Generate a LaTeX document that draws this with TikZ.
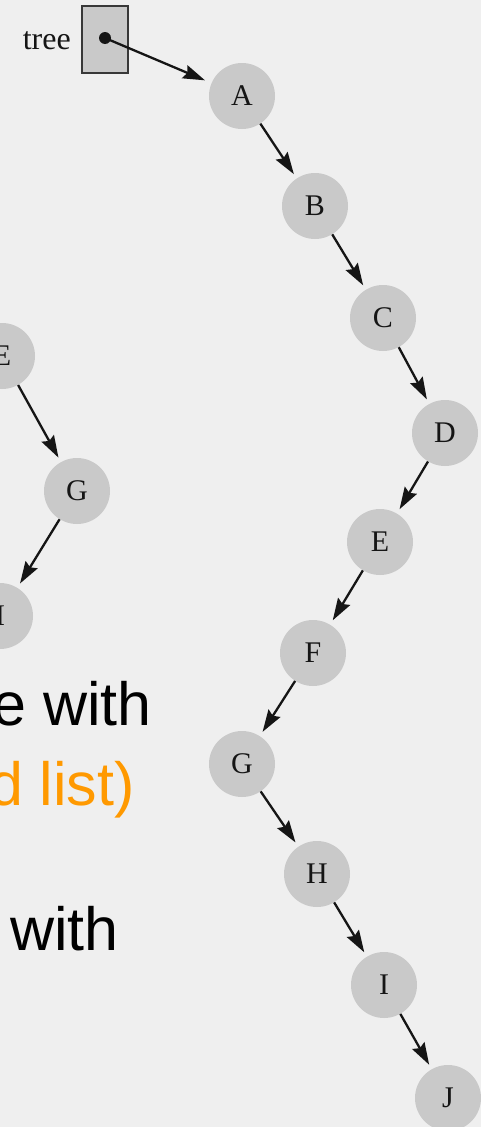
\documentclass[tikz,border=0pt]{standalone}
\usepackage{fontspec}
\setmainfont{Liberation Serif}
\newfontfamily\slidefont{Liberation Sans}
\usetikzlibrary{arrows.meta}
\definecolor{slidebg}{HTML}{EFEFEF}
\definecolor{nodegray}{HTML}{C9C9C9}
\definecolor{accent}{HTML}{FF9900}
\definecolor{ink}{HTML}{151515}
\begin{document}
\begin{tikzpicture}[x=1pt,y=-1pt,
  treenode/.style={circle,fill=nodegray,draw=none,minimum size=66pt,inner sep=0pt,
    text=ink,font=\fontsize{30}{32}\selectfont},
  link/.style={draw=ink,line width=2.3pt,
    -{Stealth[length=22pt,width=14pt,inset=3pt]},shorten >=5pt},
  slidetext/.style={anchor=base east,inner sep=0pt,font=\slidefont\fontsize{61}{66}\selectfont}]
  \fill[slidebg] (0,0) rectangle (481,1127);
  \useasboundingbox (0,0) rectangle (481,1127);
  \clip (0,0) rectangle (481,1127);

  % pointer cell holding the root
  \node[draw=ink!85,line width=1.4pt,fill=nodegray,minimum width=46pt,minimum height=67pt,
        inner sep=0pt] (cell) at (105,39.5) {};
  \node[anchor=base east,inner sep=0pt,text=ink,font=\fontsize{32}{34}\selectfont] (lbl) at (71,49) {tree};
  \fill[ink] (105,38) circle (6pt);
  \coordinate (ptr) at (105,38);

  % degenerate (list-like) tree on the right
  \node[treenode] (A) at (242,96) {A};
  \node[treenode] (B) at (315,206) {B};
  \node[treenode] (C) at (383,318) {C};
  \node[treenode] (D) at (445,433) {D};
  \node[treenode] (E) at (380,542) {E};
  \node[treenode] (F) at (313,653) {F};
  \node[treenode] (G) at (242,764) {G};
  \node[treenode] (H) at (317,874) {H};
  \node[treenode] (I) at (384,985) {I};
  \node[treenode] (J) at (448,1098) {J};

  \draw[link,shorten >=7pt] (ptr) -- (A);
  \foreach \u/\v in {A/B,B/C,C/D,D/E,E/F,F/G,G/H,H/I,I/J}
    \draw[link] (\u) -- (\v);

  % part of a second tree at the left edge
  \node[treenode] (lE) at (2,356) {E};
  \node[treenode] (lG) at (77,491) {G};
  \node[treenode] (lI) at (0,616) {I};
  \draw[link] (lE) -- (lG);
  \draw[link] (lG) -- (lI);

  % slide text running in from the left
  \node[slidetext,text=black] (t1) at (152,725) {e with};
  \node[slidetext,text=accent] (t2) at (135,805) {d list)};
  \node[slidetext,text=black] (t3) at (119,950) {with};
\end{tikzpicture}
\end{document}
